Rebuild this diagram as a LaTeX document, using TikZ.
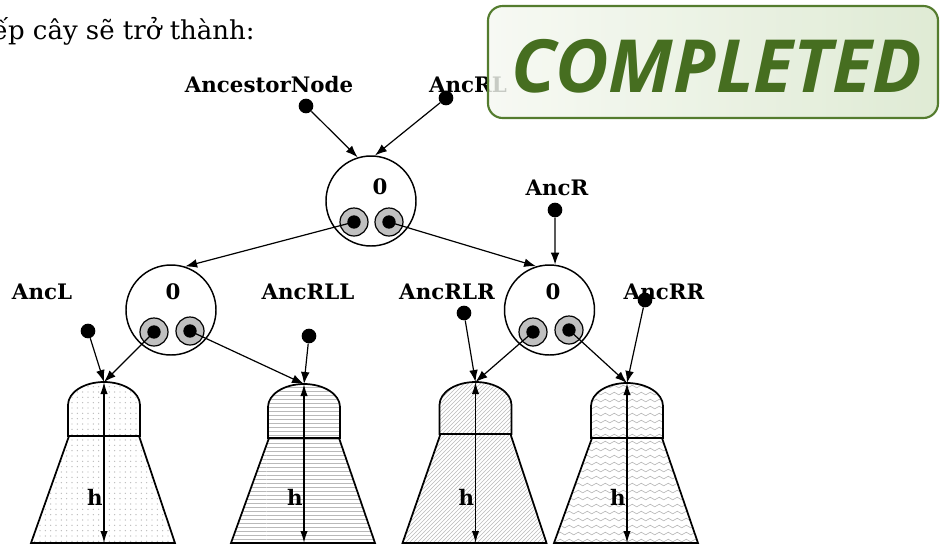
\documentclass[tikz,border=0pt]{standalone}
\usepackage{fontspec}
\setmainfont{DejaVu Serif}
\newfontfamily\stampfont{Open Sans}
\usetikzlibrary{
  arrows.meta,
  patterns,
  calc
}
\definecolor{ptrgray}{RGB}{192, 192, 192}
\definecolor{hatchgray}{RGB}{185, 185, 185}
\definecolor{stampgreen}{RGB}{70, 110, 32}
\definecolor{stampedge}{RGB}{84, 124, 46}
\definecolor{stampleft}{RGB}{245, 248, 241}
\definecolor{stampright}{RGB}{216, 230, 203}
% wavy fill for the last subtree
\pgfdeclarepatternformonly{waves}{\pgfpoint{-1pt}{-1pt}}{\pgfpoint{7.75pt}{6.25pt}}{\pgfpoint{6.75pt}{5.25pt}}{
  \pgfsetlinewidth{0.5pt}
  \pgfpathmoveto{\pgfpoint{0pt}{2.6pt}}
  \pgfpathcurveto{\pgfpoint{1.1pt}{3.9pt}}{\pgfpoint{2.3pt}{3.9pt}}{\pgfpoint{3.375pt}{2.6pt}}
  \pgfpathcurveto{\pgfpoint{4.5pt}{1.3pt}}{\pgfpoint{5.6pt}{1.3pt}}{\pgfpoint{6.75pt}{2.6pt}}
  \pgfusepath{stroke}
}
% sparse dots for the first subtree
\pgfdeclarepatternformonly{sparsedots}{\pgfpoint{-1pt}{-1pt}}{\pgfpoint{5pt}{5pt}}{\pgfpoint{4pt}{4pt}}{
  \pgfpathcircle{\pgfpoint{2pt}{2pt}}{0.55pt}
  \pgfusepath{fill}
}
\tikzset{
treenode/.style={
  circle,
  draw,
  line width=1.1pt,
  minimum size=67.5pt,
  inner sep=0pt
},
ptr/.style={
  circle,
  draw,
  line width=0.9pt,
  fill=ptrgray,
  minimum size=21pt,
  inner sep=0pt,
  path picture={\fill[black] (path picture bounding box.center) circle (5pt);}
},
dot/.style={
  circle,
  fill=black,
  minimum size=11pt,
  inner sep=0pt
},
keylabel/.style={
  font=\bfseries\fontsize{16}{18}\selectfont,
  inner sep=0pt,
  anchor=base
},
subtree/.style={
  draw,
  line width=1.3pt,
  pattern color=hatchgray
},
arrow/.style={
  -{Latex[length=9pt,width=6.5pt]},
  line width=0.9pt
},
harrow/.style={
  {Latex[length=9pt,width=5.5pt]}-{Latex[length=9pt,width=5.5pt]},
  line width=0.9pt
},
stamp/.style={
  draw=stampedge,
  line width=1.6pt,
  rounded corners=11pt,
  left color=stampleft,
  right color=stampright,
  fill opacity=0.82,
  minimum width=337.5pt,
  minimum height=84pt
},
stamptext/.style={
  text=stampgreen,
  inner sep=0pt,
  font=\stampfont\bfseries\itshape\fontsize{55}{58}\selectfont
}
}
\begin{document}
\begin{tikzpicture}[x=0.75pt, y=-0.75pt]
  \useasboundingbox (0,0) rectangle (940,544);

  % Intro line (cut at the left edge)
  \node[font=\fontsize{19.5}{22}\selectfont, inner sep=0pt, anchor=base east] (intro) at (255,39) {ếp cây sẽ trở thành:};

  % Subtrees
  \foreach \n/\cx/\top/\mid/\pat in {1/104/382/436/sparsedots, 2/304/384/438/horizontal lines, 3/475.5/382/434/north east lines, 4/627/383/438/waves} {
    \draw[subtree, pattern=\pat] (\cx-36,\mid) -- (\cx-36,\top+23)
      .. controls (\cx-36,\top+10.3) and (\cx-19.9,\top) .. (\cx,\top)
      .. controls (\cx+19.9,\top) and (\cx+36,\top+10.3) .. (\cx+36,\top+23)
      -- (\cx+36,\mid) -- cycle;
    \draw[subtree, pattern=\pat] (\cx-35,\mid) -- (\cx+35,\mid) -- (\cx+71,543) -- (\cx-73,543) -- cycle;
    \coordinate (t\n) at (\cx,\top);
    \coordinate (b\n) at (\cx,543);
    \draw[harrow] (t\n) -- (b\n);
    \node[keylabel] (h\n) at (\cx-9,505) {h};
  }

  % Tree nodes
  \node[treenode] (root) at (371,201) {};
  \node[treenode] (lchild) at (171,310) {};
  \node[treenode] (rchild) at (549.5,310) {};
  \node[keylabel] (rootval) at (380,194) {0};
  \node[keylabel] (lval) at (173,299) {0};
  \node[keylabel] (rval) at (553,299) {0};

  % Child pointers
  \node[ptr] (rootL) at (354,222) {};
  \node[ptr] (rootR) at (389,222) {};
  \node[ptr] (lchildL) at (154,332) {};
  \node[ptr] (lchildR) at (190,331) {};
  \node[ptr] (rchildL) at (533,332) {};
  \node[ptr] (rchildR) at (569,330) {};

  % Outside references
  \node[keylabel] (ancestor) at (269,92) {AncestorNode};
  \node[keylabel] (ancRL) at (468,92) {AncRL};
  \node[keylabel] (ancR) at (557,195) {AncR};
  \node[keylabel] (ancL) at (42,299) {AncL};
  \node[keylabel] (ancRLL) at (308,299) {AncRLL};
  \node[keylabel] (ancRLR) at (447,299) {AncRLR};
  \node[keylabel] (ancRR) at (664,299) {AncRR};

  \node[dot] (dAncestor) at (306,106) {};
  \node[dot] (dAncRL) at (446,98) {};
  \node[dot] (dAncR) at (555,210) {};
  \node[dot] (dAncL) at (88,331) {};
  \node[dot] (dAncRLL) at (309,336) {};
  \node[dot] (dAncRLR) at (464,313) {};
  \node[dot] (dAncRR) at (645,300) {};

  % Links
  \draw[arrow] (dAncestor) -- (root.107);
  \draw[arrow] (dAncRL) -- (root.85);
  \draw[arrow] (rootL.center) -- (lchild.72);
  \draw[arrow] (rootR.center) -- (rchild.107);
  \draw[arrow] (dAncR) -- (rchild.83);
  \draw[arrow] (dAncL) -- (t1);
  \draw[arrow] (lchildL.center) -- (t1);
  \draw[arrow] (dAncRLL) -- (t2);
  \draw[arrow] (lchildR.center) -- (t2);
  \draw[arrow] (dAncRLR) -- (t3);
  \draw[arrow] (rchildL.center) -- (t3);
  \draw[arrow] (dAncRR) -- (t4);
  \draw[arrow] (rchildR.center) -- (t4);

  % Stamp over the corner
  \node[stamp] (done) at (713,62) {};
  \node[stamptext] (donetext) at (717,66) {COMPLETED};
\end{tikzpicture}
\end{document}
